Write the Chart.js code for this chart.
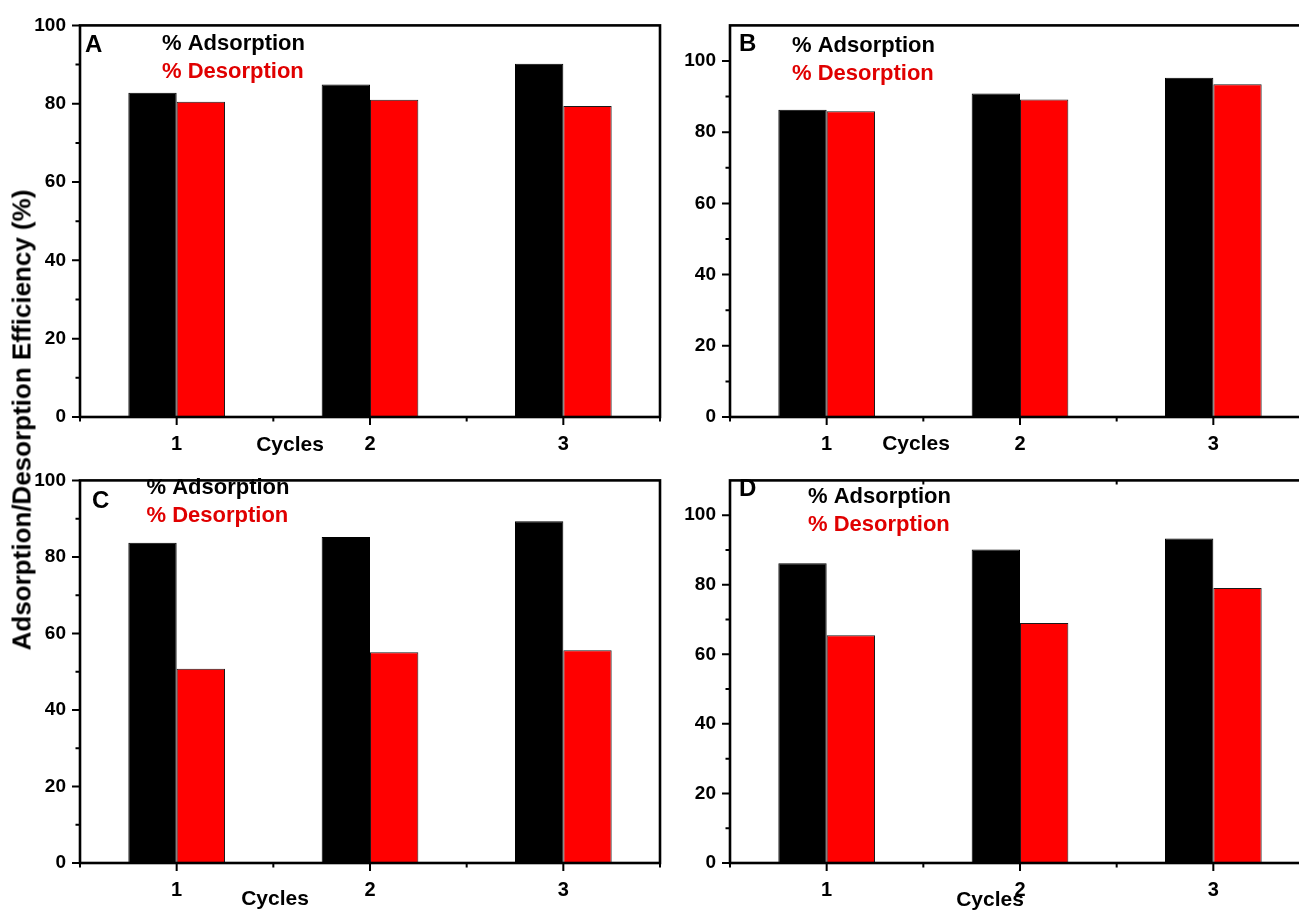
<!DOCTYPE html>
<html>
<head>
<meta charset="utf-8">
<title>Adsorption/Desorption Efficiency over Cycles</title>
<script src="https://cdn.jsdelivr.net/npm/chart.js@4.4.1/dist/chart.umd.min.js"></script>
<style>
  html, body { margin: 0; padding: 0; background: #fff; width: 1299px; height: 914px; overflow: hidden; }
  canvas { position: absolute; }
  #ytitle {
    position: absolute; left: 22px; top: 420px;
    transform: translate(-50%, -50%) rotate(-90deg);
    font: bold 26px "Liberation Sans", Arial, sans-serif;
    white-space: nowrap; color: #000;
  }
</style>
</head>
<body>
<canvas id="panelA"></canvas>
<canvas id="panelB"></canvas>
<canvas id="panelC"></canvas>
<canvas id="panelD"></canvas>
<div id="ytitle">Adsorption/Desorption Efficiency (%)</div>
<script>
// ---- data ----
const cycles = ['1', '2', '3'];

const adsorptionA = [82.8, 84.9, 90.2];
const desorptionA = [80.5, 81.0, 79.4];

const adsorptionB = [86.3, 90.9, 95.3];
const desorptionB = [85.9, 89.2, 93.5];

const adsorptionC = [83.7, 85.2, 89.3];
const desorptionC = [50.8, 55.1, 55.6];

const adsorptionD = [86.2, 90.1, 93.3];
const desorptionD = [65.5, 69.0, 79.1];

const yMajorTicks = [0, 20, 40, 60, 80, 100];
const yMinorTicks = [10, 30, 50, 70, 90];
const yMaxLeft = 100;
const yMaxRight = 110;

const seriesNames = ['% Adsorption', '% Desorption'];
const panelLetters = ['A', 'B', 'C', 'D'];
const xTitle = 'Cycles';

// ---- styling ----
const FONT = '"Liberation Sans", Arial, sans-serif';
const RED = '#ff0000';
const RED_TEXT = '#e00000';

// page-space layout of each panel (canvas box and plot area)
const layouts = {
  A: { x: 0,   y: 0,   w: 665, h: 460, area: { l: 80,  t: 22.5, r: 660,  b: 417 },
       letter: { x: 85,  y: 52 },  legend: { x: 162,   y1: 50,   y2: 78 },  title: { x: 290, y: 451 }, topTicks: false },
  B: { x: 665, y: 0,   w: 650, h: 460, area: { l: 730, t: 22.5, r: 1310, b: 417 },
       letter: { x: 739, y: 51 },  legend: { x: 792,   y1: 51.5, y2: 79.5 }, title: { x: 916, y: 450 }, topTicks: false },
  C: { x: 0,   y: 455, w: 665, h: 459, area: { l: 80,  t: 467,  r: 660,  b: 863 },
       letter: { x: 92,  y: 508 }, legend: { x: 146.5, y1: 494,  y2: 522 }, title: { x: 275, y: 905 }, topTicks: false },
  D: { x: 665, y: 455, w: 650, h: 459, area: { l: 730, t: 467,  r: 1310, b: 863 },
       letter: { x: 739, y: 496 }, legend: { x: 808,   y1: 503,  y2: 531 }, title: { x: 990, y: 906 }, topTicks: true }
};

// frame, tick marks and in-plot annotations drawn on top of the bars
const panelDecor = {
  id: 'panelDecor',
  afterDraw(chart, args, opts) {
    const ctx = chart.ctx;
    const area = chart.chartArea;
    const xs = chart.scales.x;
    const ys = chart.scales.y;
    ctx.save();
    ctx.strokeStyle = '#000';
    ctx.lineCap = 'butt';

    // y ticks (outward)
    ctx.lineWidth = 2;
    ctx.beginPath();
    yMajorTicks.forEach(v => {
      const p = ys.getPixelForValue(v);
      ctx.moveTo(area.left - 8, p); ctx.lineTo(area.left, p);
    });
    yMinorTicks.forEach(v => {
      const p = ys.getPixelForValue(v);
      ctx.moveTo(area.left - 4.5, p); ctx.lineTo(area.left, p);
    });
    // x ticks (outward): majors on cycles, minors between them
    cycles.forEach((c, i) => {
      const p = xs.getPixelForValue(i);
      ctx.moveTo(p, area.bottom); ctx.lineTo(p, area.bottom + 8);
    });
    for (let i = 0; i <= cycles.length; i++) {
      const p = xs.getPixelForValue(i - 0.5);
      ctx.moveTo(p, area.bottom); ctx.lineTo(p, area.bottom + 4.5);
      if (opts.topTicks && i > 0 && i < cycles.length) {
        ctx.moveTo(p, area.top); ctx.lineTo(p, area.top + 4);
      }
    }
    ctx.stroke();

    // plot frame
    ctx.lineWidth = 2.6;
    ctx.strokeRect(area.left, area.top, area.right - area.left, area.bottom - area.top);

    // panel letter and series labels
    ctx.textAlign = 'left';
    ctx.textBaseline = 'alphabetic';
    ctx.fillStyle = '#000';
    ctx.font = 'bold 24px ' + FONT;
    ctx.fillText(opts.letter, opts.letterPos.x, opts.letterPos.y);
    ctx.font = 'bold 22px ' + FONT;
    ctx.fillText(seriesNames[0], opts.legend.x, opts.legend.y1);
    ctx.fillStyle = RED_TEXT;
    ctx.fillText(seriesNames[1], opts.legend.x, opts.legend.y2);

    // x-axis title
    ctx.fillStyle = '#000';
    ctx.textAlign = 'center';
    ctx.font = 'bold 21px ' + FONT;
    ctx.fillText(xTitle, opts.title.x, opts.title.y);
    ctx.restore();
  }
};

function makePanel(canvasId, key, letter, ads, des, yMax) {
  const g = layouts[key];
  const cv = document.getElementById(canvasId);
  cv.width = g.w; cv.height = g.h;
  cv.style.left = g.x + 'px'; cv.style.top = g.y + 'px';
  cv.style.width = g.w + 'px'; cv.style.height = g.h + 'px';
  const local = (p) => ({ x: p.x - g.x, y: p.y - g.y });
  const areaL = g.area.l - g.x, areaT = g.area.t - g.y, areaR = g.area.r - g.x, areaB = g.area.b - g.y;

  return new Chart(cv, {
    type: 'bar',
    data: {
      labels: cycles,
      datasets: [
        { label: seriesNames[0], data: ads, backgroundColor: '#000', borderColor: '#000', borderWidth: 1 },
        { label: seriesNames[1], data: des, backgroundColor: RED, borderColor: '#1a1a1a', borderWidth: 1 }
      ]
    },
    options: {
      responsive: false,
      animation: false,
      devicePixelRatio: 1,
      layout: { padding: { left: 0, top: areaT, right: g.w - areaR, bottom: 0 } },
      datasets: { bar: { categoryPercentage: 0.5, barPercentage: 1.0, borderSkipped: 'start' } },
      plugins: {
        legend: { display: false },
        tooltip: { enabled: false },
        title: { display: false },
        panelDecor: {
          letter: letter,
          letterPos: local(g.letter),
          legend: { x: g.legend.x - g.x, y1: g.legend.y1 - g.y, y2: g.legend.y2 - g.y },
          title: local(g.title),
          topTicks: g.topTicks
        }
      },
      scales: {
        x: {
          type: 'category',
          offset: true,
          grid: { display: false, drawTicks: false },
          border: { display: false },
          ticks: { color: '#000', font: { family: FONT, size: 20, weight: 'bold' }, padding: 15, maxRotation: 0 },
          afterFit(s) { s.height = g.h - areaB; }
        },
        y: {
          min: 0,
          max: yMax,
          grid: { display: false, drawTicks: false },
          border: { display: false },
          afterBuildTicks(s) { s.ticks = yMajorTicks.map(v => ({ value: v })); },
          ticks: { color: '#000', font: { family: FONT, size: 19, weight: 'bold' }, padding: 14 },
          afterFit(s) { s.width = areaL; }
        }
      }
    },
    plugins: [panelDecor]
  });
}

makePanel('panelA', 'A', panelLetters[0], adsorptionA, desorptionA, yMaxLeft);
makePanel('panelB', 'B', panelLetters[1], adsorptionB, desorptionB, yMaxRight);
makePanel('panelC', 'C', panelLetters[2], adsorptionC, desorptionC, yMaxLeft);
makePanel('panelD', 'D', panelLetters[3], adsorptionD, desorptionD, yMaxRight);
</script>
</body>
</html>
